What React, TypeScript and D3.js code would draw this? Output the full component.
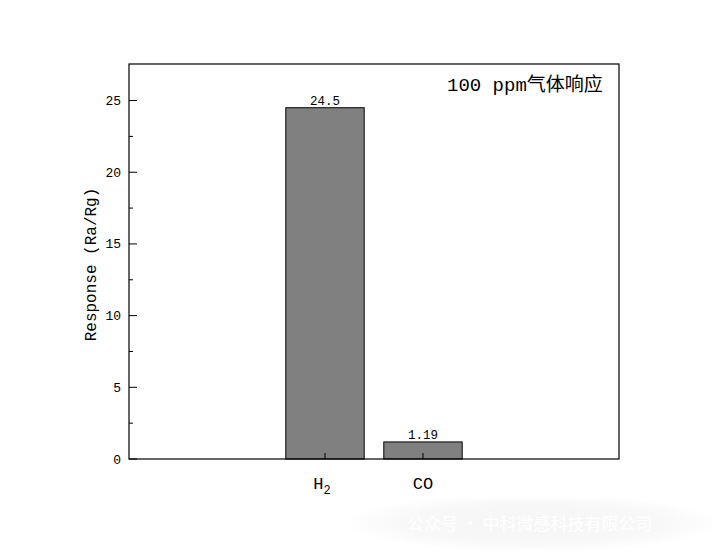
import React from "react";
import * as d3 from "d3";

const categories = ["H₂", "CO"];
const positions = [2, 3];
const values = [24.5, 1.19];
const valueLabels = ["24.5", "1.19"];
const yTicks = [0, 5, 10, 15, 20, 25];
const yMinorTicks = [2.5, 7.5, 12.5, 17.5, 22.5];

const W = 721, H = 552;
const M = { left: 129, right: 619, top: 64, bottom: 459 };

export default function App() {
  const x = d3.scaleLinear().domain([0, 5]).range([M.left, M.right]);
  const y = d3.scaleLinear().domain([0, 27.55]).range([M.bottom, M.top]);
  const step = x(1) - x(0);
  const bw = step * 0.8;
  const mono = "'Liberation Mono', 'DejaVu Sans Mono', monospace";
  return (
    <svg width={W} height={H} style={{ position: "absolute", left: 0, top: 0, background: "#fff" }}>
      <rect x={0} y={0} width={W} height={H} fill="#fff" />
      {/* watermark */}
      <defs>
        <radialGradient id="wm" cx="0.5" cy="0.5" r="0.5">
          <stop offset="0%" stopColor="#f5f5f5" />
          <stop offset="70%" stopColor="#f8f8f8" />
          <stop offset="100%" stopColor="#ffffff" />
        </radialGradient>
      </defs>
      <rect x={345} y={494} width={376} height={58} fill="url(#wm)" />
      <text x={407} y={530} fontFamily="'Noto Sans CJK SC'" fontSize={17} fill="#ffffff">公众号 · 中科微感科技有限公司</text>
      {/* bars */}
      {values.map((v, i) => (
        <g key={i}>
          <rect x={x(positions[i]) - bw / 2} y={y(v)} width={bw} height={y(0) - y(v)} fill="#808080" stroke="#000" strokeWidth={1} />
          <text x={x(positions[i])} y={y(v) - 3} textAnchor="middle" fontFamily={mono} fontSize={12.5} fill="#000">{valueLabels[i]}</text>
        </g>
      ))}
      {/* frame */}
      <rect x={M.left} y={M.top} width={M.right - M.left} height={M.bottom - M.top} fill="none" stroke="#000" strokeWidth={1.2} />
      {/* y ticks */}
      {yTicks.map((t) => (
        <g key={"y" + t}>
          <line x1={M.left} x2={M.left + 8} y1={y(t)} y2={y(t)} stroke="#000" />
          <text x={M.left - 8} y={y(t)} dy="0.35em" textAnchor="end" fontFamily={mono} fontSize={13} fill="#000">{t}</text>
        </g>
      ))}
      {yMinorTicks.map((t) => (
        <line key={"m" + t} x1={M.left} x2={M.left + 4} y1={y(t)} y2={y(t)} stroke="#000" />
      ))}
      {/* x ticks */}
      {positions.map((p, i) => (
        <line key={"x" + i} x1={x(p)} x2={x(p)} y1={M.bottom} y2={M.bottom - 6} stroke="#000" />
      ))}
      <text x={x(positions[0]) - 3} y={489} textAnchor="middle" fontFamily={mono} fontSize={17} fill="#000">
        H<tspan fontSize={12} dy={5}>2</tspan>
      </text>
      <text x={x(positions[1])} y={489} textAnchor="middle" fontFamily={mono} fontSize={17} fill="#000">{categories[1]}</text>
      {/* y axis title */}
      <text transform={`translate(96, ${(M.top + M.bottom) / 2 + 3}) rotate(-90)`} textAnchor="middle" fontFamily={mono} fontSize={16} fill="#000">Response (Ra/Rg)</text>
      {/* annotation */}
      <text x={447} y={91} fontSize={19} fill="#000">
        <tspan fontFamily={mono}>100 ppm</tspan>
        <tspan fontFamily="'Noto Sans CJK SC'">气体响应</tspan>
      </text>
    </svg>
  );
}
